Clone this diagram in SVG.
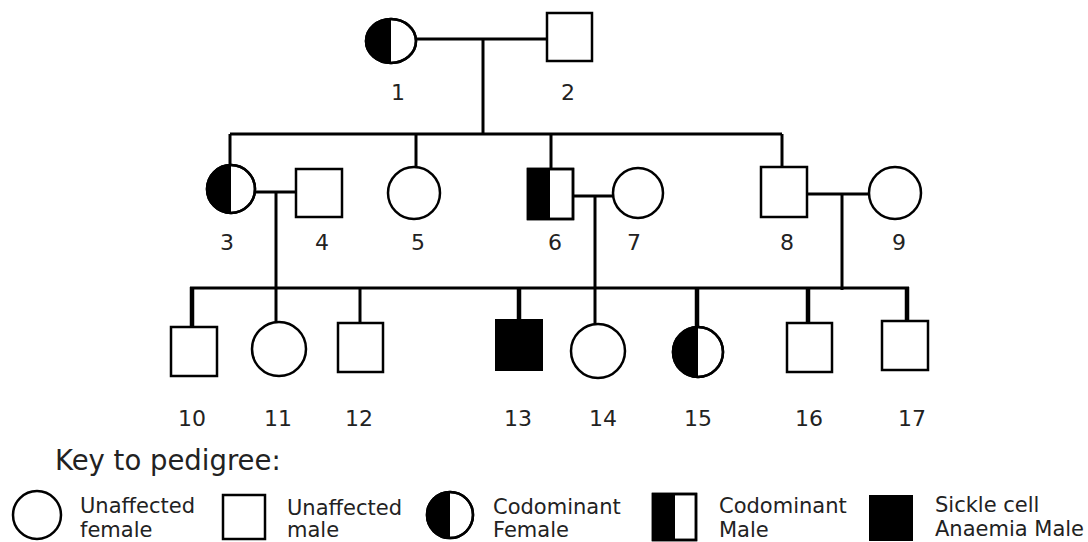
<svg xmlns="http://www.w3.org/2000/svg" width="1088" height="542" viewBox="0 0 1088 542">
<style>
.sym{fill:#fff;stroke:#000;stroke-width:2.5}
.blk{fill:#000;stroke:none}
.ln{stroke:#000;stroke-width:3;fill:none}
.thk{stroke:#000;stroke-width:4.5;fill:none}
.num{font-family:"DejaVu Sans",Verdana,sans-serif;font-size:22px;fill:#222;text-anchor:middle}
.key{font-family:"DejaVu Sans",Verdana,sans-serif;font-size:21px;fill:#222}
.title{font-family:"DejaVu Sans",Verdana,sans-serif;font-size:27.5px;fill:#222}
</style>
<rect width="1088" height="542" fill="#fff"/>
<g id="connectors">
<line class="ln" x1="415" y1="39" x2="547" y2="39"/>
<line class="ln" x1="483" y1="39" x2="483" y2="134"/>
<line class="ln" x1="230" y1="134" x2="782" y2="134"/>
<line class="ln" x1="230" y1="134" x2="230" y2="165"/>
<line class="ln" x1="416" y1="134" x2="416" y2="167"/>
<line class="ln" x1="551" y1="134" x2="551" y2="169"/>
<line class="ln" x1="782" y1="134" x2="782" y2="167"/>
<line class="ln" x1="255" y1="192" x2="296" y2="192"/>
<line class="ln" x1="276" y1="192" x2="276" y2="322"/>
<line class="ln" x1="573" y1="196" x2="613" y2="196"/>
<line class="ln" x1="595" y1="196" x2="595" y2="325"/>
<line class="ln" x1="807" y1="194" x2="869" y2="194"/>
<line class="ln" x1="842" y1="194" x2="842" y2="290"/>
<line class="ln" x1="190" y1="288" x2="909" y2="288"/>
<line class="thk" x1="192" y1="287" x2="192" y2="327"/>
<line class="ln" x1="360" y1="288" x2="360" y2="323"/>
<line class="thk" x1="519" y1="287" x2="519" y2="320"/>
<line class="thk" x1="697" y1="287" x2="697" y2="327"/>
<line class="thk" x1="808" y1="287" x2="808" y2="323"/>
<line class="thk" x1="907" y1="287" x2="907" y2="321"/>
</g>
<g id="n1"><ellipse class="sym" cx="391" cy="41" rx="25" ry="22"/><path class="blk" d="M391,19 A25,22 0 0 0 391,63 Z"/><ellipse cx="391" cy="41" rx="25" ry="22" fill="none" stroke="#000" stroke-width="2.5"/><text class="num" x="398" y="100">1</text></g>
<g id="n2"><rect class="sym" x="547" y="13" width="45" height="48"/><text class="num" x="568" y="100">2</text></g>
<g id="n3"><circle class="sym" cx="231" cy="189" r="24"/><path class="blk" d="M231,165 A24,24 0 0 0 231,213 Z"/><circle cx="231" cy="189" r="24" fill="none" stroke="#000" stroke-width="2.5"/><text class="num" x="227" y="250">3</text></g>
<g id="n4"><rect class="sym" x="296" y="169" width="46" height="48"/><text class="num" x="322" y="250">4</text></g>
<g id="n5"><circle class="sym" cx="414" cy="193" r="26"/><text class="num" x="418" y="250">5</text></g>
<g id="n6"><rect class="sym" x="528" y="169" width="45" height="50"/><rect class="blk" x="528" y="169" width="22" height="50"/><rect x="528" y="169" width="45" height="50" fill="none" stroke="#000" stroke-width="2.5"/><text class="num" x="555" y="250">6</text></g>
<g id="n7"><circle class="sym" cx="638" cy="193" r="25"/><text class="num" x="634" y="250">7</text></g>
<g id="n8"><rect class="sym" x="761" y="167" width="46" height="50"/><text class="num" x="787" y="250">8</text></g>
<g id="n9"><circle class="sym" cx="895" cy="193" r="26"/><text class="num" x="899" y="250">9</text></g>
<g id="n10"><rect class="sym" x="171" y="327" width="46" height="49"/><text class="num" x="192" y="426">10</text></g>
<g id="n11"><circle class="sym" cx="279" cy="349" r="27"/><text class="num" x="278" y="426">11</text></g>
<g id="n12"><rect class="sym" x="338" y="323" width="45" height="49"/><text class="num" x="359" y="426">12</text></g>
<g id="n13"><rect x="496" y="320" width="46" height="50" fill="#000" stroke="#000" stroke-width="2"/><text class="num" x="518" y="426">13</text></g>
<g id="n14"><circle class="sym" cx="598" cy="351" r="27"/><text class="num" x="603" y="426">14</text></g>
<g id="n15"><circle class="sym" cx="698" cy="352" r="25"/><path class="blk" d="M698,327 A25,25 0 0 0 698,377 Z"/><circle cx="698" cy="352" r="25" fill="none" stroke="#000" stroke-width="2.5"/><text class="num" x="698" y="426">15</text></g>
<g id="n16"><rect class="sym" x="787" y="323" width="45" height="49"/><text class="num" x="809" y="426">16</text></g>
<g id="n17"><rect class="sym" x="882" y="321" width="46" height="49"/><text class="num" x="912" y="426">17</text></g>
<g id="key">
<text class="title" x="55" y="470">Key to pedigree:</text>
<circle class="sym" cx="37" cy="515" r="24"/>
<text class="key" x="80" y="513">Unaffected</text><text class="key" x="80" y="537">female</text>
<rect class="sym" x="223" y="495" width="42" height="44"/>
<text class="key" x="287" y="515">Unaffected</text><text class="key" x="287" y="537">male</text>
<circle class="sym" cx="450" cy="515" r="23"/><path class="blk" d="M450,492 A23,23 0 0 0 450,538 Z"/><circle cx="450" cy="515" r="23" fill="none" stroke="#000" stroke-width="2.5"/>
<text class="key" x="493" y="514">Codominant</text><text class="key" x="493" y="537">Female</text>
<rect class="sym" x="653" y="494" width="43" height="46"/><rect class="blk" x="653" y="494" width="22" height="46"/><rect x="653" y="494" width="43" height="46" fill="none" stroke="#000" stroke-width="2.5"/>
<text class="key" x="719" y="513">Codominant</text><text class="key" x="719" y="537">Male</text>
<rect x="869" y="495" width="44" height="46" fill="#000"/>
<text class="key" x="935" y="512">Sickle cell</text><text class="key" x="935" y="536">Anaemia Male</text>
</g>
</svg>
